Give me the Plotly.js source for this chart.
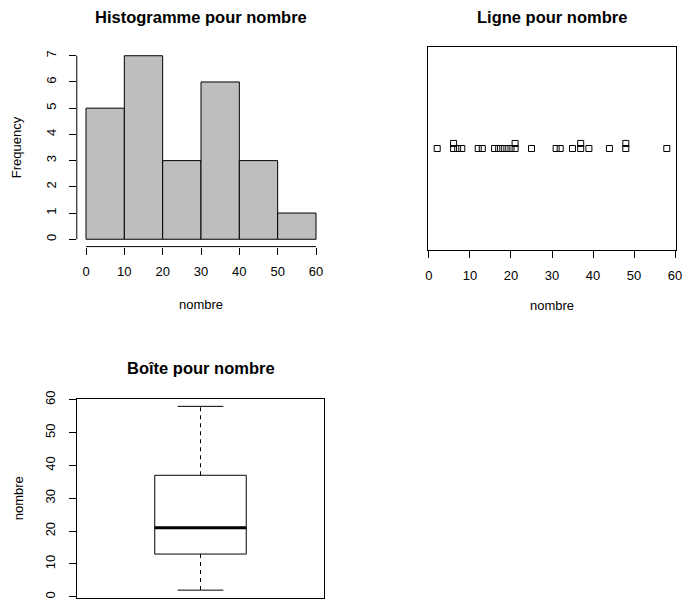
<!DOCTYPE html>
<html><head><meta charset="utf-8">
<script src="https://cdn.plot.ly/plotly-3.0.1.min.js"></script>
<style>html,body{margin:0;padding:0;background:#fff}#chart{width:682px;height:600px}</style>
</head><body><div id="chart"></div>
<script>
// ---- data ----
const nombre = [2,6,6,7,8,12,13,16,17,18,19,20,21,21,25,31,32,35,37,37,39,44,48,48,58];
const breaks = [0,10,20,30,40,50,60];
const xTicks = [0,10,20,30,40,50,60];
const freqTicks = [0,1,2,3,4,5,6,7];
const boxTicks = [0,10,20,30,40,50,60];
const histTitle = "Histogramme pour nombre";
const stripTitle = "Ligne pour nombre";
const boxTitle = "Boîte pour nombre";
const varLabel = "nombre";
const freqLabel = "Frequency";

// ---- derived ----
const counts = [], mids = [], widths = [];
for (let i = 0; i < breaks.length - 1; i++) {
  const a = breaks[i], b = breaks[i+1];
  counts.push(nombre.filter(v => (i === 0 ? v >= a : v > a) && v <= b).length);
  mids.push((a + b) / 2);
  widths.push(b - a);
}
// stacked strip positions
const seen = {};
const stripY = nombre.map(v => { const k = seen[v] || 0; seen[v] = k + 1; return 1 + 0.05 * k; });
// Tukey five-number summary
const s = nombre.slice().sort((a,b)=>a-b);
const n = s.length;
const n4 = Math.floor((n + 3) / 2) / 2;
const d = [1, n4, (n + 1) / 2, n + 1 - n4, n];
const fn = d.map(di => 0.5 * (s[Math.floor(di) - 1] + s[Math.ceil(di) - 1]));
const q1 = fn[1], med = fn[2], q3 = fn[3];
const iqr = q3 - q1;
const lo = Math.min(...s.filter(v => v >= q1 - 1.5 * iqr));
const hi = Math.max(...s.filter(v => v <= q3 + 1.5 * iqr));
const hw = 0.2, cw = 0.1, bx = 1;

// ---- layout helpers ----
const W = 682, H = 600;
const xd = (a, b) => [a / W, b / W];
const yd = (top, bot) => [1 - bot / H, 1 - top / H];
const FONT = 'Liberation Sans, Arial, sans-serif';
const tickFont = {family: FONT, size: 13, color: '#000'};
const labFont = {family: FONT, size: 13, color: '#000'};
const black = '#000';

const traces = [
  {type: 'bar', x: mids, y: counts, width: widths, xaxis: 'x', yaxis: 'y',
   marker: {color: '#BEBEBE', line: {color: black, width: 1}}, hoverinfo: 'x+y'},
  {type: 'scatter', mode: 'markers', x: nombre, y: stripY, xaxis: 'x2', yaxis: 'y2',
   marker: {symbol: 'square-open', size: 6, color: black, line: {width: 1, color: black}}},
  {type: 'scatter', mode: 'lines', xaxis: 'x3', yaxis: 'y3', fill: 'toself', fillcolor: '#fff',
   x: [bx-hw, bx+hw, bx+hw, bx-hw, bx-hw], y: [q1, q1, q3, q3, q1], line: {color: black, width: 1}},
  {type: 'scatter', mode: 'lines', xaxis: 'x3', yaxis: 'y3',
   x: [bx-hw, bx+hw], y: [med, med], line: {color: black, width: 3}},
  {type: 'scatter', mode: 'lines', xaxis: 'x3', yaxis: 'y3',
   x: [bx, bx, null, bx, bx], y: [q3, hi, null, q1, lo], line: {color: black, width: 1, dash: '4px,4px'}},
  {type: 'scatter', mode: 'lines', xaxis: 'x3', yaxis: 'y3',
   x: [bx-cw, bx+cw, null, bx-cw, bx+cw], y: [hi, hi, null, lo, lo], line: {color: black, width: 1}}
];

const common = {showgrid: false, zeroline: false, ticks: 'outside', ticklen: 7, tickwidth: 1,
  tickcolor: black, tickfont: tickFont, linecolor: black, linewidth: 1, fixedrange: true,
  ticklabeloverflow: 'allow'};

const layout = {
  width: W, height: H, margin: {l: 0, r: 0, t: 0, b: 0},
  paper_bgcolor: '#fff', plot_bgcolor: '#fff', showlegend: false,
  font: {family: FONT, color: black},
  xaxis: Object.assign({}, common, {domain: xd(76.8, 325.2), range: [-2.4, 62.4], anchor: 'y',
    tickmode: 'array', tickvals: xTicks, showline: false, ticklabelstandoff: 6,
    title: {text: varLabel, font: labFont, standoff: 21}}),
  yaxis: Object.assign({}, common, {domain: yd(48.4, 246.6), range: [-0.28, 7.28], anchor: 'x',
    tickmode: 'array', tickvals: freqTicks, tickangle: -90, showline: false, ticklabelstandoff: 8,
    title: {text: freqLabel, font: labFont, standoff: 19}}),
  xaxis2: Object.assign({}, common, {domain: xd(428, 676), range: [-0.24, 60.24], anchor: 'y2',
    tickmode: 'array', tickvals: xTicks, showline: true, mirror: true, ticklabelstandoff: 6,
    title: {text: varLabel, font: labFont, standoff: 19}}),
  yaxis2: Object.assign({}, common, {domain: yd(47, 250), range: [0, 2], anchor: 'x2',
    showticklabels: false, ticks: '', showline: true, mirror: true}),
  xaxis3: Object.assign({}, common, {domain: xd(77, 324), range: [0.46, 1.54], anchor: 'y3',
    showticklabels: false, ticks: '', showline: true, mirror: true}),
  yaxis3: Object.assign({}, common, {domain: yd(399, 597.5), range: [-0.24, 60.24], anchor: 'x3',
    tickmode: 'array', tickvals: boxTicks, tickangle: -90, showline: true, mirror: true, ticklabelstandoff: 9,
    title: {text: varLabel, font: labFont, standoff: 16}}),
  shapes: [
    {type: 'line', xref: 'x', yref: 'y domain', x0: xTicks[0], x1: xTicks[xTicks.length-1], y0: 0, y1: 0,
     line: {color: black, width: 1}},
    {type: 'line', xref: 'x domain', yref: 'y', x0: 0, x1: 0, y0: freqTicks[0], y1: freqTicks[freqTicks.length-1],
     line: {color: black, width: 1}}
  ],
  annotations: [
    {text: histTitle, xref: 'paper', yref: 'paper', x: 201 / W, y: 1 - 17 / H, showarrow: false,
     xanchor: 'center', yanchor: 'middle', font: {family: FONT, size: 16.5, weight: 'bold', color: black}},
    {text: stripTitle, xref: 'paper', yref: 'paper', x: 552 / W, y: 1 - 17 / H, showarrow: false,
     xanchor: 'center', yanchor: 'middle', font: {family: FONT, size: 16.5, weight: 'bold', color: black}},
    {text: boxTitle, xref: 'paper', yref: 'paper', x: 200.5 / W, y: 1 - 368 / H, showarrow: false,
     xanchor: 'center', yanchor: 'middle', font: {family: FONT, size: 16.5, weight: 'bold', color: black}}
  ]
};

Plotly.newPlot('chart', traces, layout, {displayModeBar: false, staticPlot: true});
</script>
</body></html>
